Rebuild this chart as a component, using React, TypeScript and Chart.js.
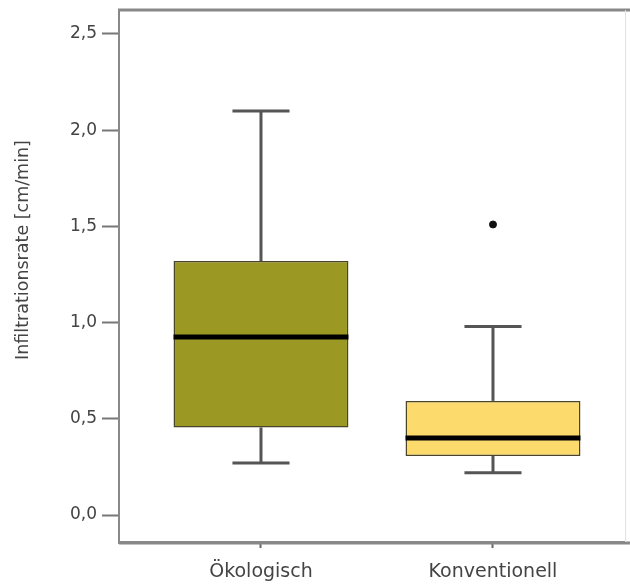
import React, { useEffect, useRef } from "react";
import { Chart, registerables } from "chart.js";

Chart.register(...registerables);

const categories = ["Ökologisch", "Konventionell"];
const positions = [1, 2];
const whiskerLow = [0.27, 0.22];
const q1 = [0.455, 0.307];
const median = [0.925, 0.4];
const q3 = [1.32, 0.593];
const whiskerHigh = [2.1, 0.98];
const outliers: number[][] = [[], [1.51]];
const yTicks = [0, 0.5, 1, 1.5, 2, 2.5];
const boxColors = ["#9b9824", "#fcdb6c"];

const FONT = "'DejaVu Sans', sans-serif";

const boxPlugin = {
  id: "boxWhiskers",
  beforeDatasetsDraw(chart: any) {
    const { ctx, scales } = chart;
    const x = scales.x;
    const y = scales.y;
    const capHalf = 0.123;
    ctx.save();
    ctx.strokeStyle = "#555";
    ctx.lineWidth = 3;
    positions.forEach((p, i) => {
      const px = x.getPixelForValue(p);
      const cl = x.getPixelForValue(p - capHalf);
      const cr = x.getPixelForValue(p + capHalf);
      ctx.beginPath();
      ctx.moveTo(px, y.getPixelForValue(q3[i]));
      ctx.lineTo(px, y.getPixelForValue(whiskerHigh[i]));
      ctx.stroke();
      ctx.beginPath();
      ctx.moveTo(cl, y.getPixelForValue(whiskerHigh[i]));
      ctx.lineTo(cr, y.getPixelForValue(whiskerHigh[i]));
      ctx.stroke();
      ctx.beginPath();
      ctx.moveTo(px, y.getPixelForValue(q1[i]));
      ctx.lineTo(px, y.getPixelForValue(whiskerLow[i]));
      ctx.stroke();
      ctx.beginPath();
      ctx.moveTo(cl, y.getPixelForValue(whiskerLow[i]));
      ctx.lineTo(cr, y.getPixelForValue(whiskerLow[i]));
      ctx.stroke();
    });
    ctx.restore();
  },
  afterDatasetsDraw(chart: any) {
    const { ctx, scales, chartArea } = chart;
    const y = scales.y;
    const meta = chart.getDatasetMeta(0);
    ctx.save();
    ctx.strokeStyle = "#000";
    ctx.lineWidth = 5;
    positions.forEach((p, i) => {
      const bar = meta.data[i];
      const half = bar.width / 2;
      const py = y.getPixelForValue(median[i]);
      ctx.beginPath();
      ctx.moveTo(bar.x - half, py);
      ctx.lineTo(bar.x + half, py);
      ctx.stroke();
    });
    // frame: top line, bottom line extension, faint right line
    ctx.strokeStyle = "#888";
    ctx.lineWidth = 3;
    ctx.beginPath();
    ctx.moveTo(chartArea.left - 1, chartArea.top);
    ctx.lineTo(chart.width, chartArea.top);
    ctx.stroke();
    ctx.beginPath();
    ctx.moveTo(chartArea.left, chartArea.bottom + 1);
    ctx.lineTo(chart.width, chartArea.bottom + 1);
    ctx.stroke();
    ctx.strokeStyle = "#e2e2e2";
    ctx.lineWidth = 1;
    ctx.beginPath();
    ctx.moveTo(625.5, chartArea.top);
    ctx.lineTo(625.5, chartArea.bottom);
    ctx.stroke();
    // y axis title
    ctx.fillStyle = "#444";
    ctx.font = `17.5px ${FONT}`;
    ctx.textAlign = "center";
    ctx.textBaseline = "middle";
    ctx.translate(23, 250);
    ctx.rotate(-Math.PI / 2);
    ctx.fillText("Infiltrationsrate [cm/min]", 0, 0);
    ctx.restore();
  },
};

export default function App() {
  const canvasRef = useRef<HTMLCanvasElement | null>(null);

  useEffect(() => {
    const canvas = canvasRef.current;
    if (!canvas) return;
    const outlierPoints: { x: number; y: number }[] = [];
    outliers.forEach((list, i) =>
      list.forEach((v) => outlierPoints.push({ x: positions[i], y: v }))
    );
    const chart = new Chart(canvas, {
      type: "bar",
      data: {
        datasets: [
          {
            type: "bar",
            data: positions.map((p, i) => ({ x: p, y: [q1[i], q3[i]] })) as any,
            backgroundColor: boxColors,
            borderColor: "#4a4526",
            borderWidth: 1.5,
            borderSkipped: false,
            categoryPercentage: 1,
            barPercentage: 0.754,
          } as any,
          {
            type: "scatter",
            data: outlierPoints,
            backgroundColor: "#111",
            borderColor: "#111",
            pointRadius: 3.5,
          } as any,
        ],
      },
      options: {
        animation: false,
        responsive: true,
        maintainAspectRatio: false,
        layout: { padding: { top: 10, right: 0, left: 0, bottom: 0 } },
        plugins: {
          legend: { display: false },
          tooltip: { enabled: false },
        },
        scales: {
          x: {
            type: "linear",
            offset: false,
            min: 0.388,
            max: 2.569,
            afterBuildTicks: (scale: any) => {
              scale.ticks = positions.map((v) => ({ value: v }));
            },
            afterFit: (scale: any) => {
              scale.height = 43;
              scale.paddingLeft = 0;
              scale.paddingRight = 0;
            },
            ticks: {
              autoSkip: false,
              maxRotation: 0,
              padding: 13,
              color: "#444",
              font: { family: FONT, size: 19 },
              callback: (v: any) => {
                const idx = positions.indexOf(Number(v));
                return idx >= 0 ? categories[idx] : "";
              },
            },
            grid: {
              offset: false,
              drawOnChartArea: false,
              drawTicks: true,
              tickLength: 6,
              tickWidth: 2,
              tickColor: "#666",
            },
            border: { display: true, color: "#888", width: 3 },
          },
          y: {
            type: "linear",
            min: -0.1403,
            max: 2.6247,
            afterBuildTicks: (scale: any) => {
              scale.ticks = yTicks.map((v) => ({ value: v }));
            },
            afterFit: (scale: any) => {
              scale.width = 119;
              scale.paddingTop = 0;
              scale.paddingBottom = 0;
            },
            ticks: {
              padding: 5,
              color: "#444",
              font: { family: FONT, size: 17 },
              callback: (v: any) => Number(v).toFixed(1).replace(".", ","),
            },
            grid: {
              drawOnChartArea: false,
              drawTicks: true,
              tickLength: 17,
              tickWidth: 2,
              tickColor: "#777",
            },
            border: { display: true, color: "#888", width: 2 },
          },
        },
      },
      plugins: [boxPlugin],
    });
    return () => chart.destroy();
  }, []);

  return (
    <div style={{ position: "absolute", left: 0, top: 0, width: 630, height: 585, background: "#fff" }}>
      <canvas ref={canvasRef} />
    </div>
  );
}
